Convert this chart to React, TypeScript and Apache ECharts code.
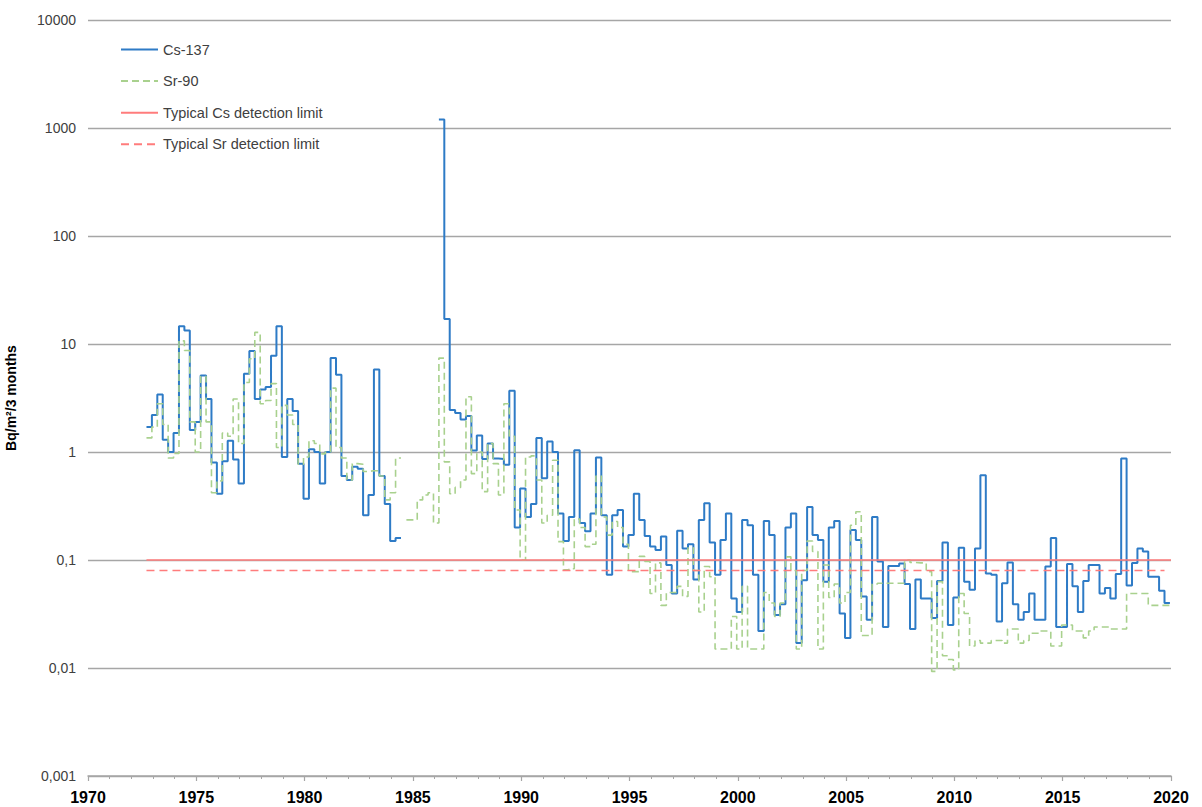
import React, { useEffect, useRef } from "react";
import * as echarts from "echarts";

// Quarterly deposition, first quarter starts at START_YEAR, each value covers STEP_YEARS
const START_YEAR = 1972.7;
const STEP_YEARS = 0.25;
const END_YEAR = 2020;

const csValues: (number | null)[] = [
  1.7, 2.2, 3.4, 1.3, 1.0, 1.5, 14.6, 13.3, 1.6, 1.9,
  5.1, 3.1, 0.8, 0.41, 0.82, 1.27, 0.85, 0.51, 5.3, 8.6,
  3.1, 3.8, 4.0, 7.8, 14.6, 0.9, 3.1, 2.4, 0.78, 0.37,
  1.06, 1.0, 0.51, 1.0, 7.4, 5.2, 0.6, 0.55, 0.73, 0.7,
  0.26, 0.4, 5.8, 0.6, 0.33, 0.15, 0.16, null, null, null,
  null, null, null, null, 1200, 17, 2.45, 2.3, 2.0, 2.15,
  1.03, 1.42, 0.86, 1.2, 0.87, 0.86, 0.76, 3.7, 0.2, 0.46,
  0.25, 0.33, 1.35, 0.57, 1.25, 1.0, 0.27, 0.15, 0.25, 1.04,
  0.22, 0.185, 0.27, 0.89, 0.26, 0.073, 0.26, 0.29, 0.133, 0.17,
  0.41, 0.235, 0.167, 0.133, 0.124, 0.165, 0.09, 0.049, 0.187, 0.128,
  0.14, 0.066, 0.235, 0.335, 0.145, 0.073, 0.153, 0.27, 0.044, 0.033,
  0.235, 0.21, 0.073, 0.022, 0.23, 0.17, 0.031, 0.039, 0.2, 0.27,
  0.017, 0.065, 0.31, 0.17, 0.153, 0.063, 0.2, 0.23, 0.032, 0.019,
  0.19, 0.153, 0.046, 0.028, 0.25, 0.097, 0.024, 0.088, 0.088, 0.093,
  0.06, 0.023, 0.066, 0.044, 0.044, 0.029, 0.064, 0.145, 0.025, 0.045,
  0.13, 0.063, 0.053, 0.128, 0.61, 0.075, 0.073, 0.027, 0.061, 0.095,
  0.039, 0.028, 0.033, 0.049, 0.028, 0.028, 0.087, 0.16, 0.024, 0.024,
  0.092, 0.057, 0.033, 0.064, 0.09, 0.09, 0.049, 0.055, 0.044, 0.074,
  0.87, 0.058, 0.094, 0.128, 0.12, 0.07, 0.07, 0.052, 0.04,
];

const srValues: (number | null)[] = [
  1.35, 1.7, 2.8, 1.8, 0.88, 0.97, 10.7, 8.7, 1.9, 1.0,
  5.0, 1.9, 0.42, 0.54, 1.5, 1.4, 3.1, 1.2, 4.4, 7.3,
  12.8, 2.8, 3.0, 4.3, 1.1, 2.7, 2.2, 1.8, 0.77, 0.9,
  1.27, 1.2, 0.96, 1.0, 3.9, 1.1, 0.88, 0.55, 0.78, 0.77,
  0.66, 0.67, 0.67, 0.6, 0.36, 0.42, 0.88, null, 0.235, 0.235,
  0.36, 0.4, 0.42, 0.22, 7.4, 0.81, 0.41, 0.47, 0.55, 3.25,
  0.63, 1.0, 0.43, 1.2, 0.78, 0.4, 2.8, 1.4, 0.29, 0.1,
  0.9, 0.92, 0.55, 0.22, 0.26, 0.84, 0.148, 0.081, 0.083, 0.24,
  0.2, 0.133, 0.14, 0.6, 0.25, 0.17, 0.227, 0.2, 0.14, 0.078,
  0.078, 0.108, 0.097, 0.049, 0.094, 0.038, 0.05, 0.05, 0.057, 0.046,
  0.13, 0.08, 0.033, 0.087, 0.07, 0.015, 0.015, 0.015, 0.03, 0.015,
  0.057, 0.015, 0.015, 0.015, 0.05, 0.04, 0.03, 0.04, 0.107, 0.08,
  0.015, 0.08, 0.15, 0.12, 0.015, 0.09, 0.045, 0.06, 0.04, 0.05,
  0.21, 0.28, 0.02, 0.02, 0.06, 0.061, 0.061, 0.061, 0.061, 0.061,
  0.1, 0.095, 0.094, 0.094, 0.078, 0.0093, 0.063, 0.013, 0.012, 0.0096,
  0.049, 0.032, 0.016, 0.018, 0.017, 0.017, 0.018, 0.018, 0.017, 0.023,
  0.023, 0.017, 0.018, 0.021, 0.021, 0.022, 0.022, 0.016, 0.016, 0.025,
  0.025, 0.022, 0.022, 0.019, 0.022, 0.024, 0.024, 0.024, 0.023, 0.023,
  0.023, 0.049, 0.049, 0.049, 0.049, 0.038, 0.038, 0.038, 0.038,
];

const csLimit = 0.1;
const srLimit = 0.08;

const seriesNames = [
  "Cs-137",
  "Sr-90",
  "Typical Cs detection limit",
  "Typical Sr detection limit",
];
const yTickLabels = ["0,001", "0,01", "0,1", "1", "10", "100", "1000", "10000"];
const yAxisTitle = "Bq/m²/3 months";

const FONT = "Arial, 'Liberation Sans', sans-serif";

function toSteps(vals: (number | null)[]) {
  const out: any[] = [];
  vals.forEach((v, k) => {
    const x0 = START_YEAR + k * STEP_YEARS;
    if (v == null) {
      out.push([x0, null]);
      return;
    }
    out.push([x0, v], [x0 + STEP_YEARS, v]);
  });
  return out;
}

export default function App() {
  const ref = useRef<HTMLDivElement>(null);
  useEffect(() => {
    if (!ref.current) return;
    const chart = echarts.init(ref.current, undefined, { renderer: "svg" });
    const blue = "#2E7BC6";
    const green = "#A9D18E";
    const red = "#FF7C7C";
    chart.setOption({
      animation: false,
      grid: {
        left: 88,
        right: 31,
        top: 20,
        bottom: 31,
        containLabel: false,
        outerBoundsMode: "none",
      },
      legend: {
        orient: "vertical",
        left: 115,
        top: 37,
        itemWidth: 37,
        itemHeight: 14,
        itemGap: 16.6,
        itemStyle: { opacity: 0 },
        textStyle: { fontSize: 14.5, color: "#404040", fontFamily: FONT },
        data: seriesNames,
      },
      xAxis: {
        type: "value",
        min: 1970,
        max: END_YEAR,
        interval: 5,
        axisLine: { lineStyle: { color: "#A6A6A6", width: 1.5 } },
        axisTick: { length: 5, lineStyle: { color: "#A6A6A6", width: 1.2 } },
        minorTick: { show: true, splitNumber: 5, length: 3, lineStyle: { color: "#A6A6A6" } },
        splitLine: { show: false },
        axisLabel: {
          fontWeight: "bold",
          fontSize: 16,
          color: "#000",
          margin: 13,
          fontFamily: FONT,
          formatter: (v: number) => String(Math.round(v)),
        },
      },
      yAxis: {
        type: "log",
        logBase: 10,
        min: 0.001,
        max: 10000,
        splitNumber: 7,
        axisLine: { show: false },
        axisTick: { show: false },
        splitLine: { lineStyle: { color: "#A6A6A6", width: 1.3 } },
        axisLabel: {
          fontSize: 14,
          color: "#404040",
          margin: 12,
          fontFamily: FONT,
          formatter: (v: number) => {
            const e = Math.round(Math.log10(v));
            return yTickLabels[e + 3] ?? "";
          },
        },
        name: yAxisTitle,
        nameLocation: "middle",
        nameGap: 70,
        nameTextStyle: { fontWeight: "bold", fontSize: 14, color: "#000", fontFamily: FONT },
      },
      series: [
        {
          name: seriesNames[0],
          type: "line",
          data: toSteps(csValues),
          symbol: "none",
          connectNulls: false,
          lineStyle: { color: blue, width: 2 },
          itemStyle: { color: blue },
        },
        {
          name: seriesNames[1],
          type: "line",
          data: toSteps(srValues),
          symbol: "none",
          connectNulls: false,
          lineStyle: { color: green, width: 1.6, type: [7, 4] },
          itemStyle: { color: green },
        },
        {
          name: seriesNames[2],
          type: "line",
          data: [
            [START_YEAR, csLimit],
            [END_YEAR, csLimit],
          ],
          symbol: "none",
          lineStyle: { color: red, width: 1.6 },
          itemStyle: { color: red },
        },
        {
          name: seriesNames[3],
          type: "line",
          data: [
            [START_YEAR, srLimit],
            [END_YEAR - 0.3, srLimit],
          ],
          symbol: "none",
          lineStyle: { color: red, width: 1.6, type: [8, 5] },
          itemStyle: { color: red },
        },
      ],
    });
    return () => chart.dispose();
  }, []);
  return (
    <div
      ref={ref}
      style={{ position: "absolute", left: 0, top: 0, width: 1202, height: 807 }}
    />
  );
}
